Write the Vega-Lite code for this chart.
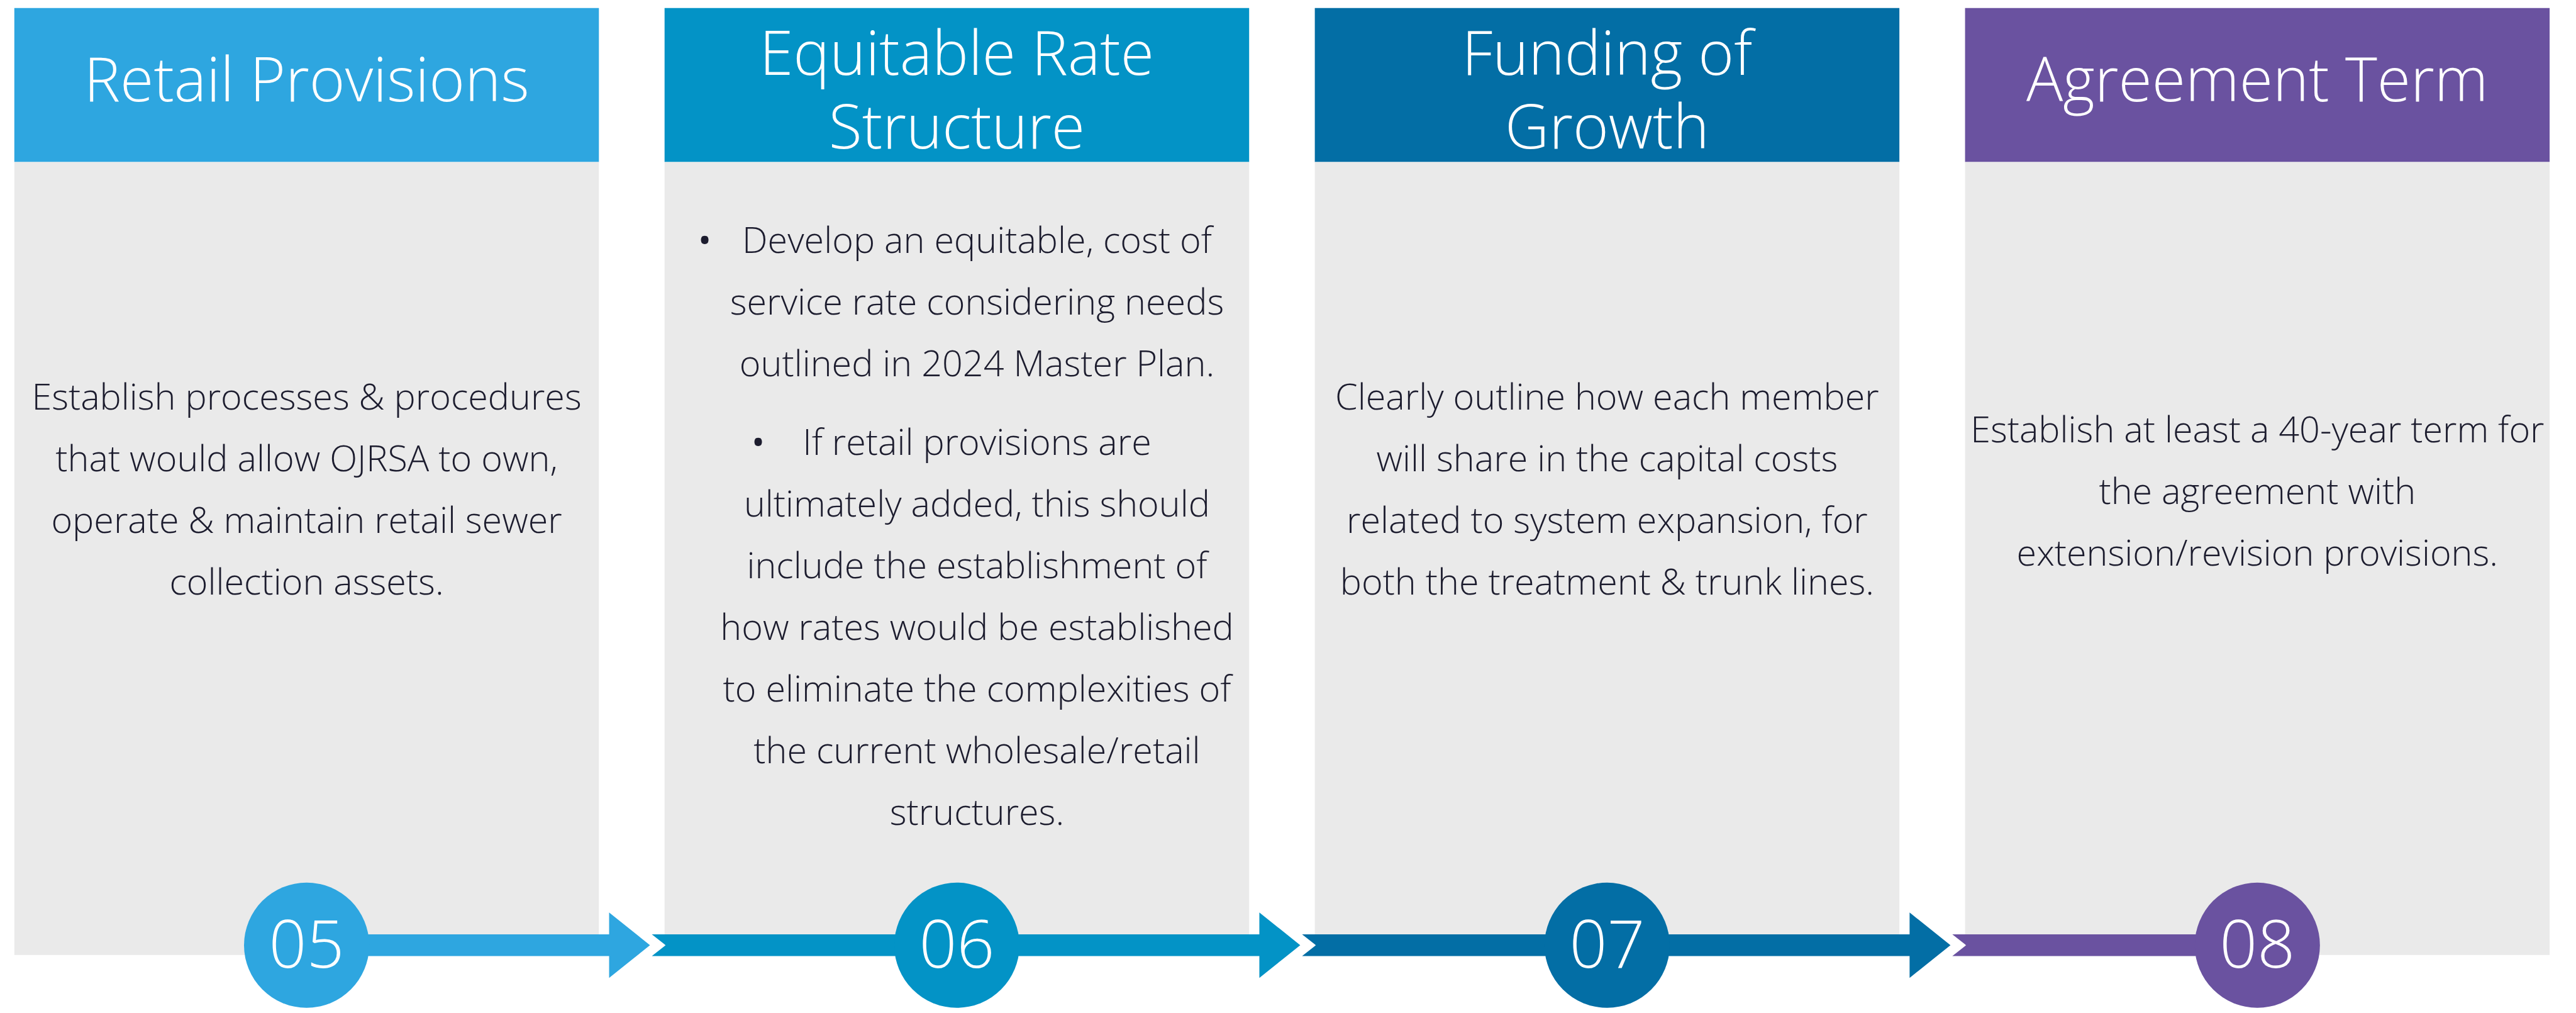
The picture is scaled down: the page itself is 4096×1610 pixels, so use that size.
{
  "$schema": "https://vega.github.io/schema/vega-lite/v6.json",
  "width": 4096,
  "height": 1610,
  "autosize": {"type": "fit", "contains": "padding"},
  "padding": 0,
  "background": "white",
  "config": {"view": {"stroke": null}, "font": "Open Sans"},
  "datasets": {
    "panels": [
      {"step": "05", "title": ["Retail Provisions"]},
      {"step": "06", "title": ["Equitable Rate", "Structure"]},
      {"step": "07", "title": ["Funding of", "Growth"]},
      {"step": "08", "title": ["Agreement Term"]}
    ],
    "paragraphs": [
      {"step": "05", "part": "body", "lines": ["Establish processes & procedures", "that would allow OJRSA to own,", "operate & maintain retail sewer", "collection assets."]},
      {"step": "06", "part": "bullet1", "lines": ["Develop an equitable, cost of", "service rate considering needs", "outlined in 2024 Master Plan."]},
      {"step": "06", "part": "bullet2", "lines": ["If retail provisions are", "ultimately added, this should", "include the establishment of", "how rates would be established", "to eliminate the complexities of", "the current wholesale/retail", "structures."]},
      {"step": "07", "part": "body", "lines": ["Clearly outline how each member", "will share in the capital costs", "related to system expansion, for", "both the treatment & trunk lines."]},
      {"step": "08", "part": "short", "lines": ["Establish at least a 40-year term for", "the agreement with", "extension/revision provisions."]}
    ],
    "links": [
      {"from": "05", "to": "06"},
      {"from": "06", "to": "07"},
      {"from": "07", "to": "08"}
    ]
  },
  "layer": [
    {
      "data": {"name": "panels"},
      "mark": {"type": "rect"},
      "encoding": {
        "x": {"field": "step", "type": "ordinal", "axis": null, "scale": {"paddingInner": 0.101, "paddingOuter": 0.0313, "align": 0.352}},
        "y": {"datum": 14, "type": "quantitative", "axis": null, "scale": {"domain": [0, 1763], "reverse": true, "nice": false, "zero": false}},
        "y2": {"datum": 282},
        "color": {"field": "step", "type": "nominal", "legend": null, "scale": {"domain": ["05", "06", "07", "08"], "range": ["#2EA6E0", "#0393C6", "#036EA5", "#6A52A0"]}}
      }
    },
    {
      "data": {"name": "panels"},
      "mark": {"type": "rect", "color": "#EAEAEA"},
      "encoding": {
        "x": {"field": "step", "type": "ordinal", "axis": null},
        "y": {"datum": 282, "type": "quantitative", "axis": null},
        "y2": {"datum": 1662}
      }
    },
    {
      "data": {"name": "panels"},
      "transform": [{"filter": "length(datum.title) == 1"}],
      "mark": {"type": "text", "color": "white", "fontSize": 97, "fontWeight": 300, "align": "center", "baseline": "alphabetic"},
      "encoding": {
        "x": {"field": "step", "type": "ordinal", "axis": null},
        "y": {"datum": 176, "type": "quantitative", "axis": null},
        "text": {"field": "title"}
      }
    },
    {
      "data": {"name": "panels"},
      "transform": [{"filter": "length(datum.title) > 1"}],
      "mark": {"type": "text", "color": "white", "fontSize": 97, "fontWeight": 300, "align": "center", "baseline": "alphabetic", "lineHeight": 117},
      "encoding": {
        "x": {"field": "step", "type": "ordinal", "axis": null},
        "y": {"datum": 130, "type": "quantitative", "axis": null},
        "text": {"field": "title"}
      }
    },
    {
      "data": {"name": "paragraphs"},
      "transform": [{"filter": "datum.part == 'body'"}],
      "mark": {"type": "text", "color": "#1C1C2E", "fontSize": 57.5, "fontWeight": 300, "align": "center", "baseline": "alphabetic", "lineHeight": 98},
      "encoding": {
        "x": {"field": "step", "type": "ordinal", "axis": null},
        "y": {"datum": 713, "type": "quantitative", "axis": null},
        "text": {"field": "lines"}
      }
    },
    {
      "data": {"name": "paragraphs"},
      "transform": [{"filter": "datum.part == 'short'"}],
      "mark": {"type": "text", "color": "#1C1C2E", "fontSize": 57.5, "fontWeight": 300, "align": "center", "baseline": "alphabetic", "lineHeight": 98},
      "encoding": {
        "x": {"field": "step", "type": "ordinal", "axis": null},
        "y": {"datum": 770, "type": "quantitative", "axis": null},
        "text": {"field": "lines"}
      }
    },
    {
      "data": {"name": "paragraphs"},
      "transform": [{"filter": "datum.part == 'bullet1'"}],
      "mark": {"type": "text", "color": "#1C1C2E", "fontSize": 57.5, "fontWeight": 300, "align": "center", "baseline": "alphabetic", "lineHeight": 98, "dx": 32},
      "encoding": {
        "x": {"field": "step", "type": "ordinal", "axis": null},
        "y": {"datum": 440, "type": "quantitative", "axis": null},
        "text": {"field": "lines"}
      }
    },
    {
      "data": {"name": "paragraphs"},
      "transform": [{"filter": "datum.part == 'bullet1'"}],
      "mark": {"type": "text", "color": "#1C1C2E", "fontSize": 57.5, "align": "center", "baseline": "alphabetic", "dx": -401, "text": "•"},
      "encoding": {
        "x": {"field": "step", "type": "ordinal", "axis": null},
        "y": {"datum": 440, "type": "quantitative", "axis": null}
      }
    },
    {
      "data": {"name": "paragraphs"},
      "transform": [{"filter": "datum.part == 'bullet2'"}],
      "mark": {"type": "text", "color": "#1C1C2E", "fontSize": 57.5, "fontWeight": 300, "align": "center", "baseline": "alphabetic", "lineHeight": 98, "dx": 32},
      "encoding": {
        "x": {"field": "step", "type": "ordinal", "axis": null},
        "y": {"datum": 792, "type": "quantitative", "axis": null},
        "text": {"field": "lines"}
      }
    },
    {
      "data": {"name": "paragraphs"},
      "transform": [{"filter": "datum.part == 'bullet2'"}],
      "mark": {"type": "text", "color": "#1C1C2E", "fontSize": 57.5, "align": "center", "baseline": "alphabetic", "dx": -316, "text": "•"},
      "encoding": {
        "x": {"field": "step", "type": "ordinal", "axis": null},
        "y": {"datum": 792, "type": "quantitative", "axis": null}
      }
    },
    {
      "data": {"name": "links"},
      "mark": {"type": "point", "filled": true, "size": 4, "strokeWidth": 0, "opacity": 1, "shape": "M 0 -17.35 L 481 -17.35 L 481 -52 L 546 0 L 481 52 L 481 17.35 L 0 17.35 Z"},
      "encoding": {
        "x": {"field": "from", "type": "ordinal", "axis": null},
        "y": {"datum": 1645, "type": "quantitative", "axis": null},
        "color": {"field": "from", "type": "nominal", "legend": null}
      }
    },
    {
      "data": {"name": "links"},
      "mark": {"type": "point", "filled": true, "size": 4, "strokeWidth": 0, "opacity": 1, "shape": "M -485 -17.35 L 0 -17.35 L 0 17.35 L -485 17.35 L -463 0 Z"},
      "encoding": {
        "x": {"field": "to", "type": "ordinal", "axis": null},
        "y": {"datum": 1645, "type": "quantitative", "axis": null},
        "color": {"field": "to", "type": "nominal", "legend": null}
      }
    },
    {
      "data": {"name": "panels"},
      "mark": {"type": "point", "filled": true, "shape": "circle", "size": 39620, "strokeWidth": 0, "opacity": 1},
      "encoding": {
        "x": {"field": "step", "type": "ordinal", "axis": null},
        "y": {"datum": 1645, "type": "quantitative", "axis": null},
        "color": {"field": "step", "type": "nominal", "legend": null}
      }
    },
    {
      "data": {"name": "panels"},
      "mark": {"type": "text", "color": "white", "fontSize": 105, "fontWeight": 300, "align": "center", "baseline": "alphabetic"},
      "encoding": {
        "x": {"field": "step", "type": "ordinal", "axis": null},
        "y": {"datum": 1684, "type": "quantitative", "axis": null},
        "text": {"field": "step"}
      }
    }
  ]
}
